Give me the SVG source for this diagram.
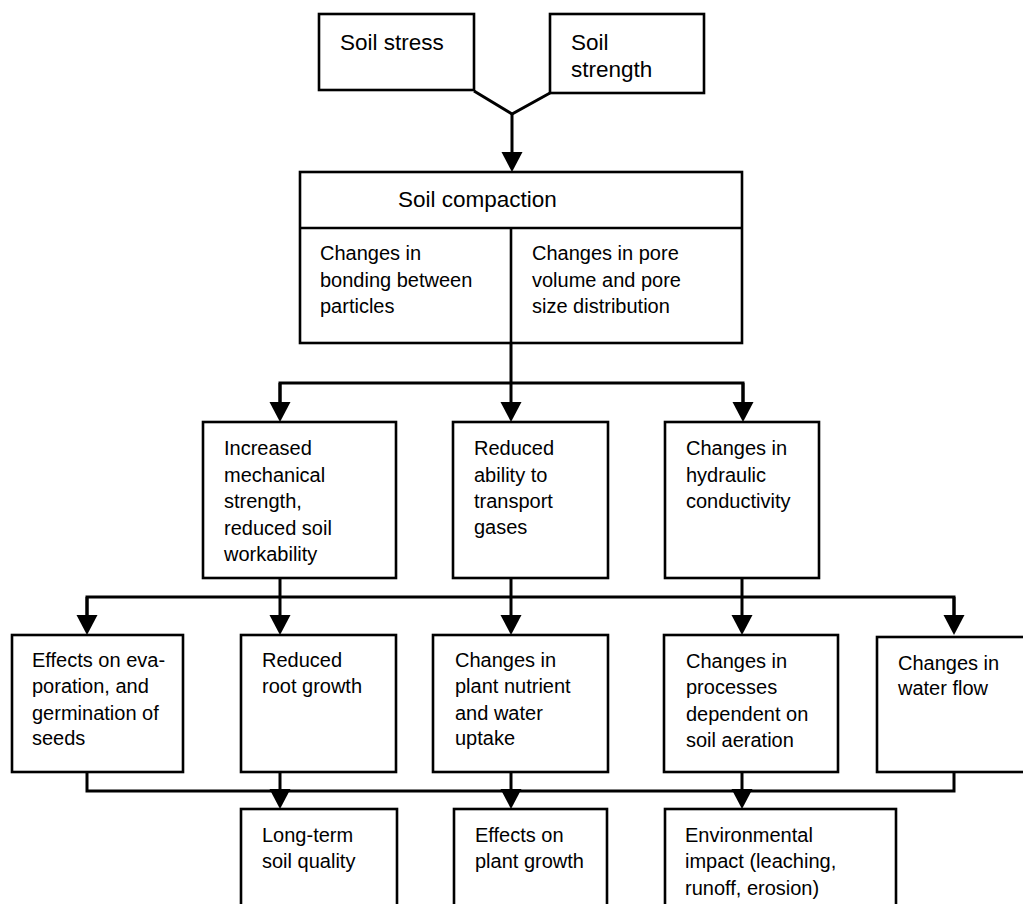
<svg xmlns="http://www.w3.org/2000/svg" width="1023" height="904" viewBox="0 0 1023 904">
<style>
.box{fill:#fff;stroke:#000;stroke-width:2.6}
.t{font-family:"Liberation Sans",Arial,sans-serif;font-size:20px;fill:#000}
.tl{font-family:"Liberation Sans",Arial,sans-serif;font-size:22.5px;fill:#000}
.c{fill:none;stroke:#000;stroke-width:3}
.a{fill:none;stroke:#000;stroke-width:3;marker-end:url(#ah)}
</style>
<defs>
<marker id="ah" markerUnits="userSpaceOnUse" markerWidth="22" markerHeight="22" refX="0" refY="10.5" orient="auto" overflow="visible">
<path d="M0,0 L20,10.5 L0,21 Z" fill="#000"/>
</marker>
</defs>
<rect width="1023" height="904" fill="#fff"/>
<g id="connectors">
<polyline class="c" points="474,91 512,114 550,93"/>
<line class="a" x1="512" y1="114" x2="512" y2="152"/>
<line class="a" x1="511" y1="343" x2="511" y2="402"/>
<polyline class="c" points="280,402 280,383 743,383 743,402"/>
<line class="a" x1="280" y1="383" x2="280" y2="402"/>
<line class="a" x1="743" y1="383" x2="743" y2="402"/>
<line class="a" x1="280" y1="578" x2="280" y2="615"/>
<line class="a" x1="511" y1="578" x2="511" y2="615"/>
<line class="a" x1="742" y1="578" x2="742" y2="615"/>
<polyline class="c" points="87,615 87,597 954,597 954,615"/>
<line class="a" x1="87" y1="597" x2="87" y2="615"/>
<line class="a" x1="954" y1="597" x2="954" y2="615"/>
<polyline class="c" points="87,772 87,791 954,791 954,772"/>
<line class="a" x1="280" y1="772" x2="280" y2="789"/>
<line class="a" x1="511" y1="772" x2="511" y2="789"/>
<line class="a" x1="742" y1="772" x2="742" y2="789"/>
</g>
<g id="soil-stress">
<rect class="box" x="319" y="14" width="155" height="76"/>
<text class="tl" x="340" y="50">Soil stress</text>
</g>
<g id="soil-strength">
<rect class="box" x="550" y="14" width="154" height="79"/>
<text class="tl" x="571" y="50">Soil</text>
<text class="tl" x="571" y="77">strength</text>
</g>
<g id="soil-compaction">
<rect class="box" x="300" y="172" width="442" height="171"/>
<line class="box" x1="300" y1="228" x2="742" y2="228"/>
<line class="box" x1="511" y1="228" x2="511" y2="343"/>
<text class="tl" x="398" y="207">Soil compaction</text>
<text class="t" x="320" y="260">Changes in</text>
<text class="t" x="320" y="287">bonding between</text>
<text class="t" x="320" y="313">particles</text>
<text class="t" x="532" y="260">Changes in pore</text>
<text class="t" x="532" y="287">volume and pore</text>
<text class="t" x="532" y="313">size distribution</text>
</g>
<g id="mechanical-strength">
<rect class="box" x="203" y="422" width="193" height="156"/>
<text class="t" x="224" y="455">Increased</text>
<text class="t" x="224" y="482">mechanical</text>
<text class="t" x="224" y="508">strength,</text>
<text class="t" x="224" y="535">reduced soil</text>
<text class="t" x="224" y="561">workability</text>
</g>
<g id="gas-transport">
<rect class="box" x="453" y="422" width="155" height="156"/>
<text class="t" x="474" y="455">Reduced</text>
<text class="t" x="474" y="482">ability to</text>
<text class="t" x="474" y="508">transport</text>
<text class="t" x="474" y="534">gases</text>
</g>
<g id="hydraulic-conductivity">
<rect class="box" x="665" y="422" width="154" height="156"/>
<text class="t" x="686" y="455">Changes in</text>
<text class="t" x="686" y="482">hydraulic</text>
<text class="t" x="686" y="508">conductivity</text>
</g>
<g id="evaporation">
<rect class="box" x="12" y="635" width="171" height="137"/>
<text class="t" x="32" y="667">Effects on eva-</text>
<text class="t" x="32" y="693">poration, and</text>
<text class="t" x="32" y="720">germination of</text>
<text class="t" x="32" y="745">seeds</text>
</g>
<g id="root-growth">
<rect class="box" x="241" y="635" width="155" height="137"/>
<text class="t" x="262" y="667">Reduced</text>
<text class="t" x="262" y="693">root growth</text>
</g>
<g id="nutrient-uptake">
<rect class="box" x="433" y="635" width="175" height="137"/>
<text class="t" x="455" y="667">Changes in</text>
<text class="t" x="455" y="693">plant nutrient</text>
<text class="t" x="455" y="720">and water</text>
<text class="t" x="455" y="745">uptake</text>
</g>
<g id="aeration-processes">
<rect class="box" x="664" y="635" width="174" height="137"/>
<text class="t" x="686" y="668">Changes in</text>
<text class="t" x="686" y="694">processes</text>
<text class="t" x="686" y="721">dependent on</text>
<text class="t" x="686" y="747">soil aeration</text>
</g>
<g id="water-flow">
<rect class="box" x="877" y="637" width="160" height="135"/>
<text class="t" x="898" y="670">Changes in</text>
<text class="t" x="898" y="695">water flow</text>
</g>
<g id="soil-quality">
<rect class="box" x="241" y="809" width="156" height="110"/>
<text class="t" x="262" y="842">Long-term</text>
<text class="t" x="262" y="868">soil quality</text>
</g>
<g id="plant-growth">
<rect class="box" x="454" y="809" width="153" height="110"/>
<text class="t" x="475" y="842">Effects on</text>
<text class="t" x="475" y="868">plant growth</text>
</g>
<g id="environmental-impact">
<rect class="box" x="665" y="809" width="231" height="110"/>
<text class="t" x="685" y="842">Environmental</text>
<text class="t" x="685" y="868">impact (leaching,</text>
<text class="t" x="685" y="895">runoff, erosion)</text>
</g>
</svg>
